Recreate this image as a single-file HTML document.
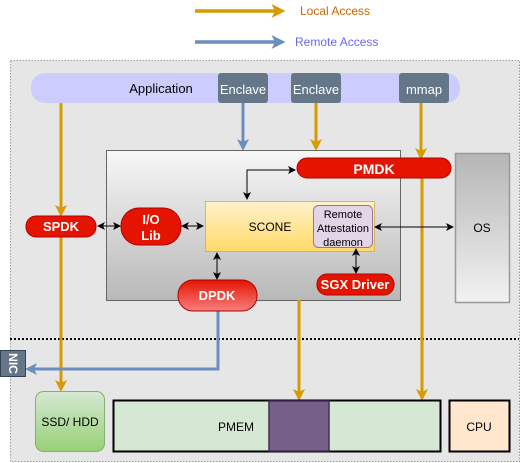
<!DOCTYPE html>
<html><head><meta charset="utf-8"><style>
html,body{margin:0;padding:0;background:#fff;}
svg{display:block;}
svg text{font-family:"Liberation Sans",Arial,Helvetica,sans-serif;}
</style></head><body>
<svg width="524" height="463" viewBox="0 0 524 463" xmlns="http://www.w3.org/2000/svg" font-family="Liberation Sans, Arial, sans-serif">
<defs>
<linearGradient id="gMain" x1="0" y1="0" x2="0" y2="1"><stop offset="0" stop-color="#f7f7f7"/><stop offset="1" stop-color="#b8b8b8"/></linearGradient>
<linearGradient id="gOS" x1="0" y1="0" x2="0" y2="1"><stop offset="0" stop-color="#b5b5b5"/><stop offset="1" stop-color="#f2f2f2"/></linearGradient>
<linearGradient id="gScone" x1="0" y1="0" x2="0" y2="1"><stop offset="0" stop-color="#fff2cc"/><stop offset="1" stop-color="#ffd966"/></linearGradient>
<linearGradient id="gDpdk" x1="0" y1="0" x2="0" y2="1"><stop offset="0" stop-color="#e51400"/><stop offset="1" stop-color="#f58080"/></linearGradient>
<linearGradient id="gSsd" x1="0" y1="0" x2="0" y2="1"><stop offset="0" stop-color="#d5e8d4"/><stop offset="1" stop-color="#97d077"/></linearGradient>
<marker id="ao" markerWidth="4" markerHeight="4" refX="3" refY="2" orient="auto" markerUnits="strokeWidth"><path d="M0,0 L4,2 L0,4 L1,2 z" fill="#d79b00"/></marker>
<marker id="ab" markerWidth="4" markerHeight="4" refX="3" refY="2" orient="auto" markerUnits="strokeWidth"><path d="M0,0 L4,2 L0,4 L1,2 z" fill="#6c8ebf"/></marker>
<marker id="ak" markerWidth="8" markerHeight="8" refX="7" refY="4" orient="auto-start-reverse" markerUnits="userSpaceOnUse"><path d="M0,0 L8,4 L0,8 L2,4 z" fill="#000"/></marker>
</defs>
<line x1="195" y1="11" x2="282" y2="11" stroke="#d79b00" stroke-width="3.5" marker-end="url(#ao)"/>
<text x="300" y="15" font-size="12" fill="#cc6600">Local Access</text>
<line x1="195" y1="42" x2="282" y2="42" stroke="#6c8ebf" stroke-width="3.5" marker-end="url(#ab)"/>
<text x="295" y="46" font-size="12" fill="#6666ff">Remote Access</text>
<rect x="10.5" y="60.5" width="509" height="401" fill="#e6e6e6" stroke="#999" stroke-dasharray="1.5,1.5"/>
<line x1="10" y1="339" x2="519" y2="339" stroke="#000" stroke-width="2" stroke-dasharray="2,2"/>
<rect x="31" y="73" width="429" height="30" rx="14" fill="#ccccff"/>
<text x="161" y="93" font-size="13" text-anchor="middle">Application</text>
<rect x="218" y="73" width="50" height="30" rx="3" fill="#647687"/>
<text x="243" y="94" font-size="13" fill="#fff" text-anchor="middle">Enclave</text>
<rect x="291" y="73" width="50" height="30" rx="3" fill="#647687"/>
<text x="316" y="94" font-size="13" fill="#fff" text-anchor="middle">Enclave</text>
<rect x="399" y="73" width="50" height="30" rx="3" fill="#647687"/>
<text x="424" y="94" font-size="13" fill="#fff" text-anchor="middle">mmap</text>
<rect x="106.5" y="150.5" width="294" height="150" fill="url(#gMain)" stroke="#666"/>
<rect x="455.5" y="153.5" width="54" height="149" fill="url(#gOS)" stroke="#999" stroke-width="1.5"/>
<text x="482" y="232" font-size="12" text-anchor="middle">OS</text>
<line x1="243" y1="103" x2="243" y2="148" stroke="#6c8ebf" stroke-width="3" marker-end="url(#ab)"/>
<line x1="316" y1="103" x2="316" y2="148" stroke="#d79b00" stroke-width="3" marker-end="url(#ao)"/>
<line x1="61" y1="103" x2="61" y2="214" stroke="#d79b00" stroke-width="3" marker-end="url(#ao)"/>
<line x1="61" y1="237" x2="61" y2="389" stroke="#d79b00" stroke-width="3" marker-end="url(#ao)"/>
<line x1="421" y1="103" x2="421" y2="157" stroke="#d79b00" stroke-width="3" marker-end="url(#ao)"/>
<line x1="422" y1="178" x2="422" y2="398" stroke="#d79b00" stroke-width="3" marker-end="url(#ao)"/>
<line x1="299" y1="300" x2="299" y2="398" stroke="#d79b00" stroke-width="3" marker-end="url(#ao)"/>
<polyline points="218,310 218,369 28,369" fill="none" stroke="#6c8ebf" stroke-width="3" marker-end="url(#ab)"/>
<rect x="297" y="158" width="154" height="20" rx="10" fill="#e51400" stroke="#b20000"/>
<text x="374" y="174" font-size="14" font-weight="bold" fill="#fff" text-anchor="middle">PMDK</text>
<rect x="205.5" y="201.5" width="169" height="50" fill="url(#gScone)" stroke="#d6b656"/>
<text x="270" y="231" font-size="12" text-anchor="middle">SCONE</text>
<rect x="313.5" y="205.5" width="59" height="42" rx="5" fill="#e1d5e7" stroke="#9673a6"/>
<text x="343" y="218" font-size="11" text-anchor="middle">Remote</text>
<text x="343" y="232" font-size="11" text-anchor="middle">Attestation</text>
<text x="343" y="246" font-size="11" text-anchor="middle">daemon</text>
<polyline points="247,199 247,170 295,170" fill="none" stroke="#000" marker-start="url(#ak)" marker-end="url(#ak)"/>
<line x1="98" y1="226" x2="120" y2="226" stroke="#000" marker-start="url(#ak)" marker-end="url(#ak)"/>
<line x1="182" y1="226" x2="203" y2="226" stroke="#000" marker-start="url(#ak)" marker-end="url(#ak)"/>
<line x1="375" y1="227" x2="453" y2="227" stroke="#000" marker-start="url(#ak)" marker-end="url(#ak)"/>
<line x1="217" y1="253" x2="217" y2="279" stroke="#000" marker-start="url(#ak)" marker-end="url(#ak)"/>
<line x1="356" y1="249" x2="356" y2="273" stroke="#000" marker-start="url(#ak)" marker-end="url(#ak)"/>
<rect x="26" y="216" width="70" height="21" rx="10" fill="#e51400" stroke="#b20000"/>
<text x="61" y="231" font-size="13" font-weight="bold" fill="#fff" text-anchor="middle">SPDK</text>
<rect x="121" y="208" width="60" height="37" rx="18" fill="#e51400" stroke="#b20000"/>
<text x="151" y="224" font-size="13" font-weight="bold" fill="#fff" text-anchor="middle">I/O</text>
<text x="151" y="240" font-size="13" font-weight="bold" fill="#fff" text-anchor="middle">Lib</text>
<rect x="317" y="274" width="77" height="21" rx="10" fill="#e51400" stroke="#b20000"/>
<text x="355" y="289" font-size="13" font-weight="bold" fill="#fff" text-anchor="middle">SGX Driver</text>
<rect x="178" y="280" width="79" height="31" rx="15" fill="url(#gDpdk)" stroke="#b20000"/>
<text x="217" y="300" font-size="13" font-weight="bold" fill="#fff" text-anchor="middle">DPDK</text>
<rect x="0.5" y="350.5" width="25" height="26" fill="#647687" stroke="#314354"/>
<text x="0" y="0" font-size="12" font-weight="bold" fill="#fff" text-anchor="middle" transform="translate(9,363.5) rotate(90)">NIC</text>
<rect x="35.5" y="391.5" width="69" height="60" rx="8" fill="url(#gSsd)" stroke="#82b366"/>
<text x="70" y="426" font-size="12" text-anchor="middle">SSD/ HDD</text>
<rect x="113.5" y="400.5" width="327" height="51" fill="#d5e8d4" stroke="#000" stroke-width="2"/>
<rect x="269" y="401" width="60" height="50" fill="#76608a" stroke="#432d57" stroke-width="1.5"/>
<text x="236" y="431" font-size="12" text-anchor="middle">PMEM</text>
<rect x="449.5" y="400.5" width="60" height="51" fill="#ffe6cc" stroke="#000" stroke-width="2"/>
<text x="479" y="431" font-size="12" text-anchor="middle">CPU</text>
</svg>
</body></html>
